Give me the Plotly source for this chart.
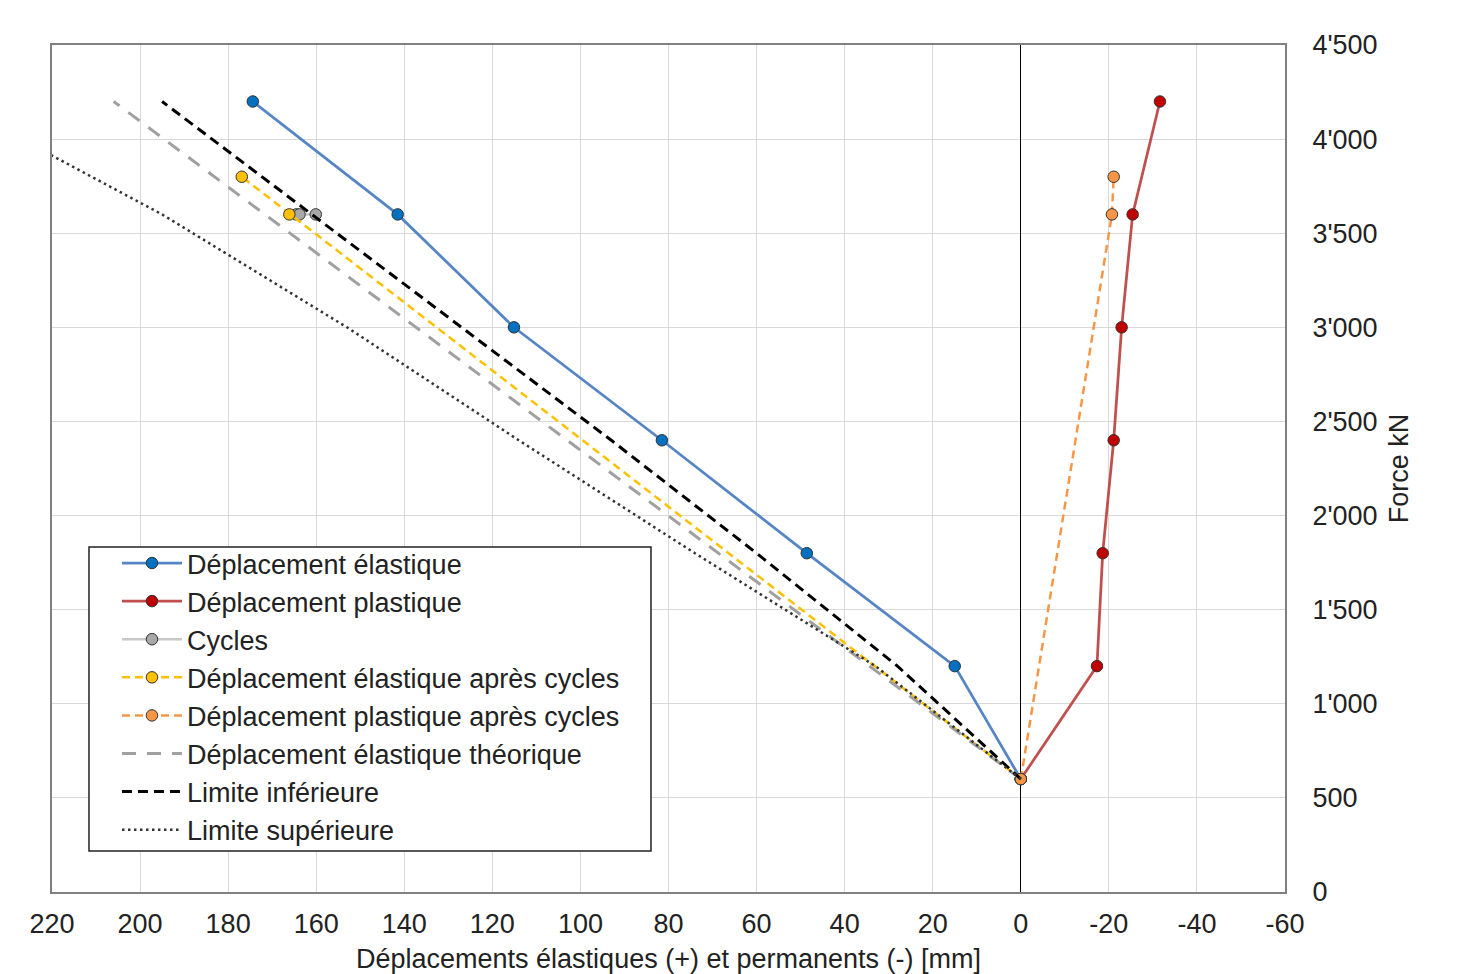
import plotly.graph_objects as go

# ---- data (displacement in mm, force in kN) ----
el_x = [0, 15.0, 48.6, 81.5, 115.1, 141.5, 174.4]
el_f = [600, 1200, 1800, 2400, 3000, 3600, 4200]

pl_x = [0, -17.3, -18.6, -21.1, -22.9, -25.4, -31.6]
pl_f = [600, 1200, 1800, 2400, 3000, 3600, 4200]

cyc_x = [164.5, 160.1, 163.8]
cyc_f = [3600, 3600, 3600]

elc_x = [0, 166.1, 176.9]
elc_f = [600, 3600, 3800]

plc_x = [0, -20.7, -21.1]
plc_f = [600, 3600, 3800]

th_x = [0, 206.0]
th_f = [600, 4200]

inf_x = [0, 28, 60, 93, 127, 161, 195]
inf_f = [600, 1200, 1800, 2400, 3000, 3600, 4200]

sup_x = [0, 33, 74, 114, 153, 195, 243]
sup_f = [600, 1200, 1800, 2400, 3000, 3600, 4200]

x_ticks = [220, 200, 180, 160, 140, 120, 100, 80, 60, 40, 20, 0, -20, -40, -60]
x_ticklabels = ["220", "200", "180", "160", "140", "120", "100", "80", "60", "40", "20", "0", "-20", "-40", "-60"]
y_ticks = [0, 500, 1000, 1500, 2000, 2500, 3000, 3500, 4000, 4500]
y_ticklabels = ["0", "500", "1'000", "1'500", "2'000", "2'500", "3'000", "3'500", "4'000", "4'500"]

names = [
    "Déplacement élastique",
    "Déplacement plastique",
    "Cycles",
    "Déplacement élastique après cycles",
    "Déplacement plastique après cycles",
    "Déplacement élastique théorique",
    "Limite inférieure",
    "Limite supérieure",
]

FONT = "Liberation Sans, Arial, sans-serif"
FS = 27
TXT = "#222222"
outline = dict(color="#333333", width=1)
MS = 11.5

fig = go.Figure()
fig.add_trace(go.Scatter(x=el_x, y=el_f, name=names[0], mode="lines+markers",
                         line=dict(color="#5585c4", width=2.75),
                         marker=dict(color="#0070c0", size=MS, line=outline)))
fig.add_trace(go.Scatter(x=pl_x, y=pl_f, name=names[1], mode="lines+markers",
                         line=dict(color="#c0504d", width=2.75),
                         marker=dict(color="#c00000", size=MS, line=outline)))
fig.add_trace(go.Scatter(x=cyc_x, y=cyc_f, name=names[2], mode="lines+markers",
                         line=dict(color="#c8c8c8", width=2.5),
                         marker=dict(color="#a8a8a8", size=MS, line=outline)))
fig.add_trace(go.Scatter(x=elc_x, y=elc_f, name=names[3], mode="lines+markers",
                         line=dict(color="#ffc000", width=2.5, dash="8px,5px"),
                         marker=dict(color="#ffc000", size=MS, line=outline)))
fig.add_trace(go.Scatter(x=plc_x, y=plc_f, name=names[4], mode="lines+markers",
                         line=dict(color="#f79646", width=2.5, dash="8px,5px"),
                         marker=dict(color="#f79646", size=MS, line=outline)))
fig.add_trace(go.Scatter(x=th_x, y=th_f, name=names[5], mode="lines",
                         line=dict(color="#a0a0a0", width=3, dash="14px,11px")))
fig.add_trace(go.Scatter(x=inf_x, y=inf_f, name=names[6], mode="lines",
                         line=dict(color="#000000", width=3, dash="10px,6px")))
fig.add_trace(go.Scatter(x=sup_x, y=sup_f, name=names[7], mode="lines",
                         line=dict(color="#333333", width=2.5, dash="2.5px,3.5px")))

# legend frame (drawn as a shape so the legend entries can be inset)
fig.add_shape(type="rect", xref="paper", yref="paper",
              x0=0.0300, x1=0.4858, y0=0.0484, y1=0.4073,
              line=dict(color="#222222", width=1.5), fillcolor="white", layer="above")

fig.update_layout(
    width=1468, height=966,
    margin=dict(l=44, r=191, t=37, b=82, autoexpand=False),
    paper_bgcolor="white", plot_bgcolor="white",
    font=dict(family=FONT, size=FS, color=TXT),
    showlegend=True,
    legend=dict(x=0.0527, y=0.4168, xanchor="left", yanchor="top",
                bgcolor="rgba(0,0,0,0)", borderwidth=0,
                font=dict(family=FONT, size=27, color=TXT),
                itemwidth=60, tracegroupgap=0),
)
fig.update_xaxes(
    range=[220, -60], tickvals=x_ticks, ticktext=x_ticklabels,
    automargin=False,
    showgrid=True, gridcolor="#d9d9d9", gridwidth=1,
    zeroline=True, zerolinecolor="#000000", zerolinewidth=1,
    showline=True, mirror=True, linecolor="#808080", linewidth=2,
    ticks="", ticklabelstandoff=7,
    tickfont=dict(family=FONT, size=FS, color=TXT),
    title=dict(text="Déplacements élastiques (+) et permanents (-) [mm]",
               font=dict(family=FONT, size=FS, color=TXT), standoff=26),
)
fig.update_yaxes(
    range=[0, 4500], side="right", tickvals=y_ticks, ticktext=y_ticklabels,
    automargin=False,
    showgrid=True, gridcolor="#d9d9d9", gridwidth=1,
    zeroline=False,
    showline=True, mirror=True, linecolor="#808080", linewidth=2,
    ticks="", ticklabelstandoff=20,
    tickfont=dict(family=FONT, size=FS, color=TXT),
    title=dict(text="Force kN", font=dict(family=FONT, size=FS, color=TXT), standoff=12),
)

fig.write_html("out.html")
